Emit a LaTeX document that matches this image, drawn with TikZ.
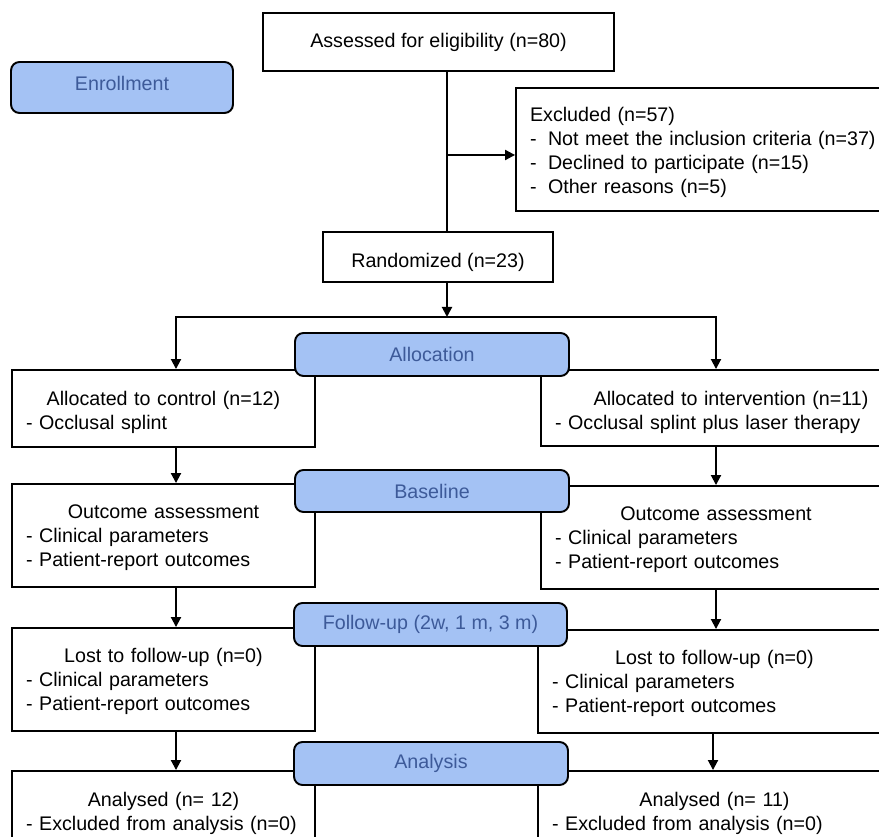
\documentclass[tikz,border=0pt]{standalone}
\usepackage{fontspec}
\setmainfont{Liberation Sans}
\usepackage{xcolor}
\usetikzlibrary{arrows.meta}
\definecolor{stagefill}{HTML}{A4C2F4}
\definecolor{stagetext}{HTML}{3D5A99}
\newcommand\boxhead[2][12.7pt]{\makebox[\linewidth]{\rule{0pt}{#1}#2}}
\newcommand\dashitem{\makebox[0.36cm][l]{-}}
\tikzset{
	box/.style={draw, line width=1.1pt, fill=white, inner xsep=0.28cm, inner ysep=0pt, align=left, font=\fontsize{11.2}{13.7}\selectfont},
	stage/.style={draw, line width=1.1pt, rounded corners=0.17cm, fill=stagefill, text=stagetext, inner sep=0pt, font=\fontsize{11.2}{13.7}\selectfont},
	arr/.style={-{Triangle[length=0.2cm,width=0.2cm]}, line width=1.1pt},
	link/.style={line width=1.1pt}
}

\begin{document}
\begin{tikzpicture}[x=0.02cm, y=-0.02cm]
	\useasboundingbox (0,0) rectangle (879,837);
	\clip (0,0) rectangle (879,837);
	\coordinate (trunk) at (447,0);
	\coordinate (branch) at (447,155);
	\coordinate (split) at (447,317);
	\coordinate (cl) at (176,0);
	\coordinate (cr) at (716,0);
	\coordinate (cr2) at (713,0);
	\node[box, minimum width=7.02cm, minimum height=1.16cm] (assess) at (438.5,42) {Assessed for eligibility (n=80)};
	\node[box, text width=7.24cm, minimum height=2.46cm] (excl) at (711,149.5) {\rule{0pt}{11pt}Excluded (n=57)\\\dashitem Not meet the inclusion criteria (n=37)\\\dashitem Declined to participate (n=15)\\\dashitem Other reasons (n=5)};
	\node[box, minimum width=4.6cm, minimum height=1.0cm] (rand) at (438,257) {\raisebox{-0.1cm}[\height][\depth]{Randomized (n=23)}};
	\node[box, text width=5.5cm, minimum height=1.54cm] (ctrl) at (163.5,408.5) {\boxhead{Allocated to control (n=12)}\\- Occlusal splint};
	\node[box, text width=6.44cm, minimum height=1.52cm] (intv) at (716,408) {\boxhead{\hspace*{0.6cm}Allocated to intervention (n=11)}\\- Occlusal splint plus laser therapy};
	\node[box, text width=5.5cm, minimum height=2.06cm] (outl) at (163.5,535.5) {\boxhead[10.5pt]{Outcome assessment}\\- Clinical parameters\\- Patient-report outcomes};
	\node[box, text width=6.44cm, minimum height=2.06cm] (outr) at (716,537.5) {\boxhead[10.5pt]{Outcome assessment}\\- Clinical parameters\\- Patient-report outcomes};
	\node[box, text width=5.5cm, minimum height=2.06cm] (lostl) at (163.5,679.5) {\boxhead[10.5pt]{Lost to follow-up (n=0)}\\- Clinical parameters\\- Patient-report outcomes};
	\node[box, text width=6.5cm, minimum height=2.06cm] (lostr) at (714.5,681.5) {\boxhead[10.5pt]{Lost to follow-up (n=0)}\\- Clinical parameters\\- Patient-report outcomes};
	\node[box, text width=5.5cm, minimum height=1.54cm] (anall) at (163.5,809.5) {\boxhead{Analysed (n= 12)}\\- Excluded from analysis (n=0)};
	\node[box, text width=6.5cm, minimum height=1.54cm] (analr) at (714.5,809.5) {\boxhead{Analysed (n= 11)}\\- Excluded from analysis (n=0)};
	\node[stage, minimum width=4.44cm, minimum height=1.02cm] (enrol) at (122,87.5) {\raisebox{0.08cm}[\height][\depth]{Enrollment}};
	\node[stage, minimum width=5.48cm, minimum height=0.86cm] (alloc) at (432,354.5) {Allocation};
	\node[stage, minimum width=5.48cm, minimum height=0.84cm] (base) at (432,491) {Baseline};
	\node[stage, minimum width=5.46cm, minimum height=0.86cm] (follow) at (430.5,624.5) {Follow-up (2w, 1 m, 3 m)};
	\node[stage, minimum width=5.48cm, minimum height=0.86cm] (analy) at (431,763.5) {Analysis};
	\draw[link] (assess.south -| trunk) -- (rand.north -| trunk);
	\draw[arr] (branch) -- (branch -| excl.west);
	\draw[arr] (rand.south -| trunk) -- (split);
	\draw[arr] (split) -| (ctrl.north -| cl);
	\draw[arr] (split) -| (intv.north -| cr);
	\draw[arr] (ctrl.south -| cl) -- (outl.north -| cl);
	\draw[arr] (intv.south -| cr) -- (outr.north -| cr);
	\draw[arr] (outl.south -| cl) -- (lostl.north -| cl);
	\draw[arr] (outr.south -| cr) -- (lostr.north -| cr);
	\draw[arr] (lostl.south -| cl) -- (anall.north -| cl);
	\draw[arr] (lostr.south -| cr2) -- (analr.north -| cr2);
\end{tikzpicture}
\end{document}
